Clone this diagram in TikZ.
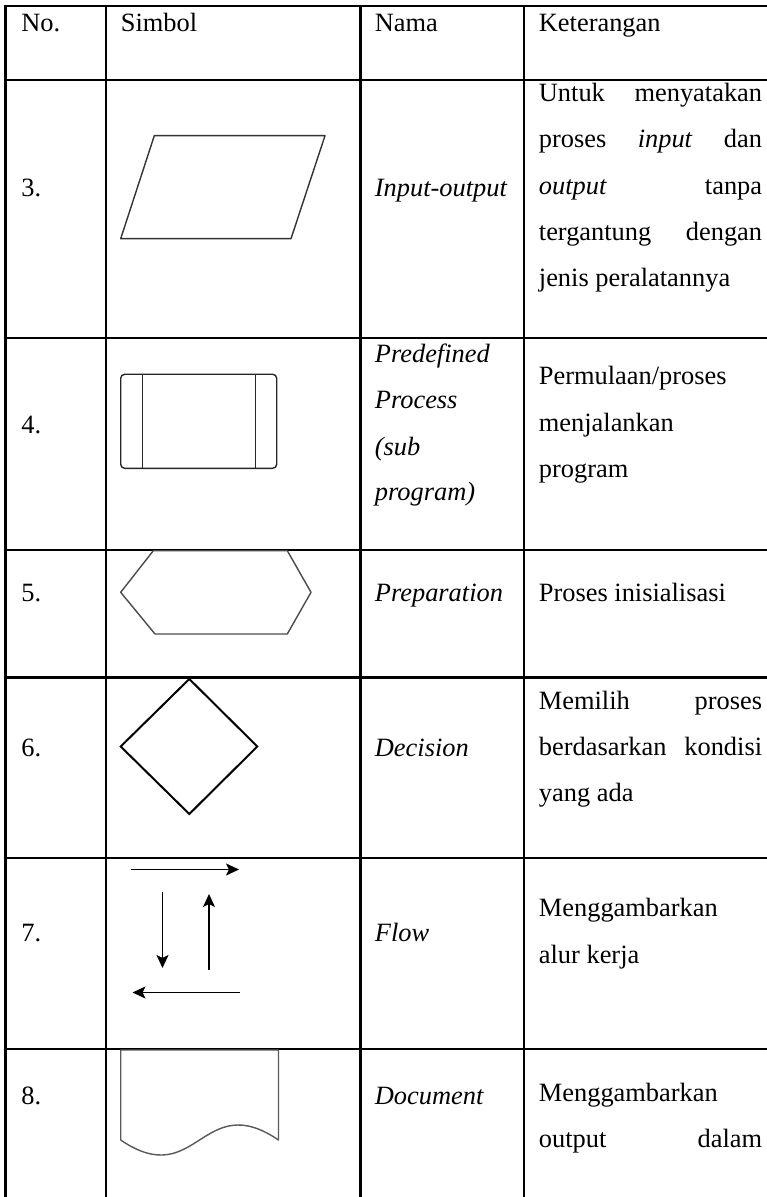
\documentclass[tikz,border=0pt]{standalone}
\usepackage{fontspec}
\setmainfont{Liberation Serif}
\usetikzlibrary{arrows.meta}

\newcommand{\spreadline}[1]{\hbox to 111.6pt{#1}}

\begin{document}
\begin{tikzpicture}[x=0.5pt,y=-0.5pt,
    rule/.style={line width=1.1pt,black},
    txt/.style={anchor=base west,inner sep=0pt,font=\fontsize{13.2}{15}\selectfont},
    itxt/.style={txt,font=\fontsize{13.2}{15}\selectfont\itshape},
    symline/.style={line width=0.7pt,black!80,line join=round},
    flowarrow/.style={line width=0.85pt,-{Stealth[length=6.5pt,width=6pt,inset=1.5pt]}}]
      \useasboundingbox (0,0) rectangle (766,1197);
      \fill[white] (0,0) rectangle (766,1197);

      \def \Rules {6, 80, 338, 550, 677.5, 858, 1049}
      \def \Columns {5.5, 106, 360.5, 524}
      \foreach \y in \Rules {
        \draw[rule] (4.5,\y) -- (770,\y);
      }
      \foreach \x in \Columns {
        \draw[rule] (\x,5) -- (\x,1200);
      }

      \def \Heads {
        hno/21/No.,
        hsimbol/120.5/Simbol,
        hnama/374.5/Nama,
        hket/538.5/Keterangan}
      \foreach \id / \x / \w in \Heads {
        \node[txt] (\id) at (\x, 32) {\w};
      }

      \def \Numbers {
        3/197,
        4/433,
        5/601,
        6/756,
        7/941.5,
        8/1104}
      \foreach \id / \y in \Numbers {
        \node[txt] (no\id) at (21, \y) {\id.};
      }

      \def \Names {
        io/197/Input-output,
        pre1/362.5/Predefined,
        pre2/408.5/Process,
        pre3/455/(sub,
        pre4/500.5/program),
        prep/601.5/Preparation,
        dec/756/Decision,
        flow/941.5/Flow,
        doc/1104/Document}
      \foreach \id / \y / \w in \Names {
        \node[itxt] (\id) at (374.5, \y) {\w};
      }

      \node[txt] (ket3a) at (538.5, 101.5) {\spreadline{Untuk\hfill menyatakan}};
      \node[txt] (ket3b) at (538.5, 147.8) {\spreadline{proses\hfill\textit{input}\hfill dan}};
      \node[txt] (ket3c) at (538.5, 194.1) {\spreadline{\textit{output}\hfill tanpa}};
      \node[txt] (ket3d) at (538.5, 240.4) {\spreadline{tergantung\hfill dengan}};
      \node[txt] (ket3e) at (538.5, 286.7) {jenis peralatannya};
      \node[txt] (ket4a) at (538.5, 385) {Permulaan/proses};
      \node[txt] (ket4b) at (538.5, 431) {menjalankan};
      \node[txt] (ket4c) at (538.5, 477) {program};
      \node[txt] (ket5a) at (538.5, 601.5) {Proses inisialisasi};
      \node[txt] (ket6a) at (538.5, 709) {\spreadline{Memilih\hfill proses}};
      \node[txt] (ket6b) at (538.5, 755.5) {\spreadline{berdasarkan\hfill kondisi}};
      \node[txt] (ket6c) at (538.5, 801) {yang ada};
      \node[txt] (ket7a) at (538.5, 916.5) {Menggambarkan};
      \node[txt] (ket7b) at (538.5, 963) {alur kerja};
      \node[txt] (ket8a) at (538.5, 1101) {Menggambarkan};
      \node[txt] (ket8b) at (538.5, 1147) {\spreadline{output\hfill dalam}};

      \draw[symline] (154.3,135.7) -- (325,135.7) -- (291,238.7) -- (120.7,238.7) -- cycle;

      \draw[symline,black!85,rounded corners=2pt] (120.7,374.3) rectangle (276.7,468.3);
      \draw[symline,black!85] (142.7,374.3) -- (142.7,468.3);
      \draw[symline,black!85] (255.3,374.3) -- (255.3,468.3);

      \draw[symline,black!70] (153.3,550.7) -- (287.3,550.7) -- (311,592.3) -- (287.3,634)
        -- (155,634) -- (120.7,592.3) -- cycle;

      \draw[line width=1pt,black,line join=miter] (189.3,679) -- (257.3,746.5) -- (189.3,814)
        -- (120.7,746.5) -- cycle;

      \def \Flows {
        right/131/869.5/239/869.5,
        down/162.5/892/162.5/968,
        up/209/970/209/894,
        left/240/992.5/132.5/992.5}
      \foreach \id / \xa / \ya / \xb / \yb in \Flows {
        \coordinate (\id-from) at (\xa, \ya);
        \coordinate (\id-to) at (\xb, \yb);
        \path[draw,flowarrow] (\id-from) -- (\id-to);
      }

      \draw[symline,black!65] (120.7,1050) -- (120.7,1140)
        .. controls (197,1192) and (202,1088) .. (278.5,1140) -- (278.5,1050) -- cycle;
    \end{tikzpicture}
\end{document}
